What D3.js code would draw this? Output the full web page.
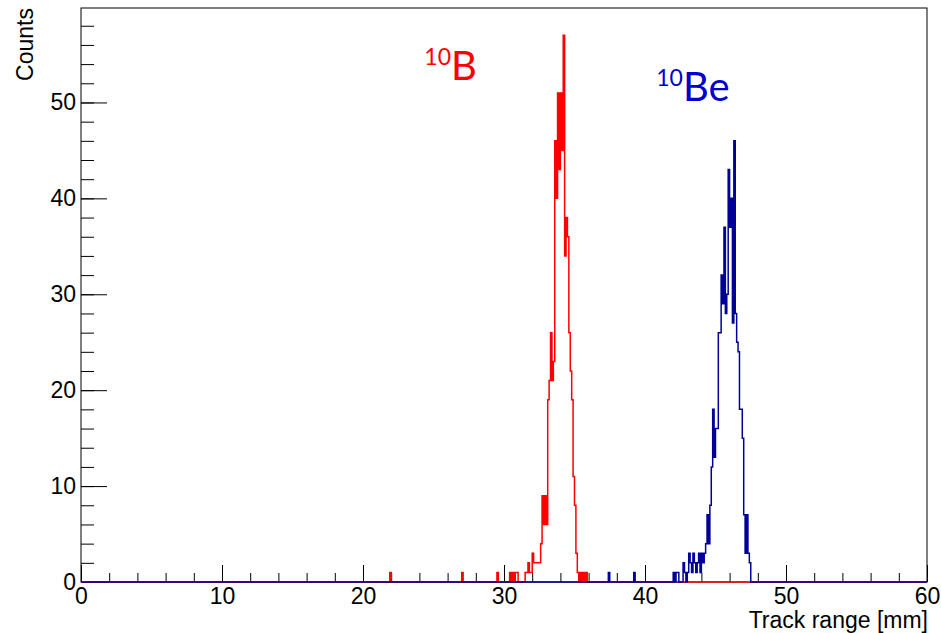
<!DOCTYPE html>
<html>
<head>
<meta charset="utf-8">
<script src="https://cdn.jsdelivr.net/npm/d3@7"></script>
<style>
  body { margin: 0; background: #fff; }
  .axis text { font-family: "Liberation Sans", Arial, sans-serif; font-size: 23px; fill: #000; }
  .axis line, .axis path { stroke: #000; stroke-width: 1; }
  .title { font-family: "Liberation Sans", Arial, sans-serif; font-size: 23px; fill: #000; }
  .iso { font-family: Lato, "Open Sans", sans-serif; }
</style>
</head>
<body>
<script>
// Histogram binning (Track range, mm)
var binWidth = 0.1,
    nBins = 600;

// Axis ticks
var xMajor = [0, 10, 20, 30, 40, 50, 60],
    yMajor = [0, 10, 20, 30, 40, 50];

// 10B counts: contiguous run starting at redStart, plus a few stray bins
var redStart = 304;
var redCounts = [1, 0, 1, 0, 1, 1, 0, 0, 0, 0, 0,
                 1, 1, 2, 1, 1, 3, 2, 2, 2, 2, 2, 4, 9, 6, 9, 6,
                 19, 21, 26, 21, 23, 46, 40, 51, 43, 51, 45, 57,
                 34, 38, 36, 26, 22, 19, 11, 8, 3, 1, 0, 1, 0, 1, 0, 1];
var redStrayBins = [219, 270, 295],
    redStrayCounts = [1, 1, 1];

// 10Be counts
var blueStart = 420;
var blueCounts = [1, 0, 1, 1, 0, 0, 0, 2, 1, 0, 1, 3, 2, 1, 3, 2, 1, 2, 3, 1,
                  3, 2, 3, 4, 7, 4, 8, 12, 18, 13, 16, 16, 26, 26, 32, 29, 37,
                  28, 30, 43, 37, 40, 27, 46, 28, 25, 24, 18, 18, 15, 7, 3, 7, 3, 2];
var blueStrayBins = [374, 392],
    blueStrayCounts = [1, 1];

// Annotation anchors (data units)
var redLabel = {x: 24.35, y: 52.3, text: 'B'},
    blueLabel = {x: 40.8, y: 50.2, text: 'Be'};

var margin = {top: 8, right: 14, bottom: 51, left: 81},
    width = 941 - margin.left - margin.right,
    height = 633 - margin.top - margin.bottom;

var xScale = d3.scaleLinear().domain([0, 60]).range([0, width]),
    yScale = d3.scaleLinear().domain([0, 57 * 1.05]).range([height, 0]);

var svg = d3.select('body').append('svg')
    .attr('width', 941)
    .attr('height', 633);

var g = svg.append('g')
    .attr('transform', 'translate(' + margin.left + ',' + margin.top + ')');

function fillBins(start, counts, strayBins, strayCounts) {
    var bins = new Array(nBins).fill(0);
    counts.forEach(function(c, i) { bins[start + i] = c; });
    strayBins.forEach(function(b, i) { bins[b] = strayCounts[i]; });
    return bins;
}

function histPoints(bins) {
    var pts = bins.map(function(c, i) { return [i * binWidth, c]; });
    pts.push([nBins * binWidth, bins[nBins - 1]]);
    return pts;
}

var drawStep = d3.line()
    .x(function(d) { return xScale(d[0]); })
    .y(function(d) { return yScale(d[1]); })
    .curve(d3.curveStepAfter);

var red = fillBins(redStart, redCounts, redStrayBins, redStrayCounts),
    blue = fillBins(blueStart, blueCounts, blueStrayBins, blueStrayCounts);

// Frame
g.append('rect')
    .attr('width', width)
    .attr('height', height)
    .attr('fill', 'none')
    .attr('stroke', '#000');

// X axis: major + minor ticks pointing up into the frame
g.append('g')
    .attr('class', 'axis')
    .attr('transform', 'translate(0,' + height + ')')
    .call(d3.axisBottom(xScale).tickValues(xMajor).tickSize(-17).tickPadding(6).tickSizeOuter(0))
    .call(function(s) { s.select('.domain').remove(); });

g.append('g')
    .attr('class', 'axis')
    .attr('transform', 'translate(0,' + height + ')')
    .call(d3.axisBottom(xScale).tickValues(d3.range(0, 61, 2)).tickSize(-9).tickFormat('').tickSizeOuter(0))
    .call(function(s) { s.select('.domain').remove(); });

// Y axis
g.append('g')
    .attr('class', 'axis')
    .call(d3.axisLeft(yScale).tickValues(yMajor).tickSize(-26).tickPadding(5).tickSizeOuter(0))
    .call(function(s) { s.select('.domain').remove(); });

g.append('g')
    .attr('class', 'axis')
    .call(d3.axisLeft(yScale).tickValues(d3.range(0, 59, 2)).tickSize(-13).tickFormat('').tickSizeOuter(0))
    .call(function(s) { s.select('.domain').remove(); });

// Histograms
g.append('path')
    .attr('d', drawStep(histPoints(red)))
    .attr('fill', 'none')
    .attr('stroke', '#ff0000')
    .attr('stroke-width', 1.5);

g.append('path')
    .attr('d', drawStep(histPoints(blue)))
    .attr('fill', 'none')
    .attr('stroke', '#000099')
    .attr('stroke-width', 1.5);

// Axis titles
svg.append('text')
    .attr('class', 'title')
    .attr('text-anchor', 'end')
    .attr('x', margin.left + width + 1)
    .attr('y', 628)
    .text('Track range [mm]');

svg.append('text')
    .attr('class', 'title')
    .attr('text-anchor', 'end')
    .attr('transform', 'translate(33,' + margin.top + ') rotate(-90)')
    .text('Counts');

// Isotope labels
function isoLabel(lab, color) {
    var t = g.append('text')
        .attr('class', 'iso')
        .attr('x', xScale(lab.x))
        .attr('y', yScale(lab.y))
        .attr('fill', color);
    t.append('tspan').attr('font-size', 23).attr('dy', -15).text('10');
    t.append('tspan').attr('font-size', 40).attr('dy', 15).text(lab.text);
}

isoLabel(redLabel, '#ff0000');
isoLabel(blueLabel, '#0000cc');
</script>
</body>
</html>
